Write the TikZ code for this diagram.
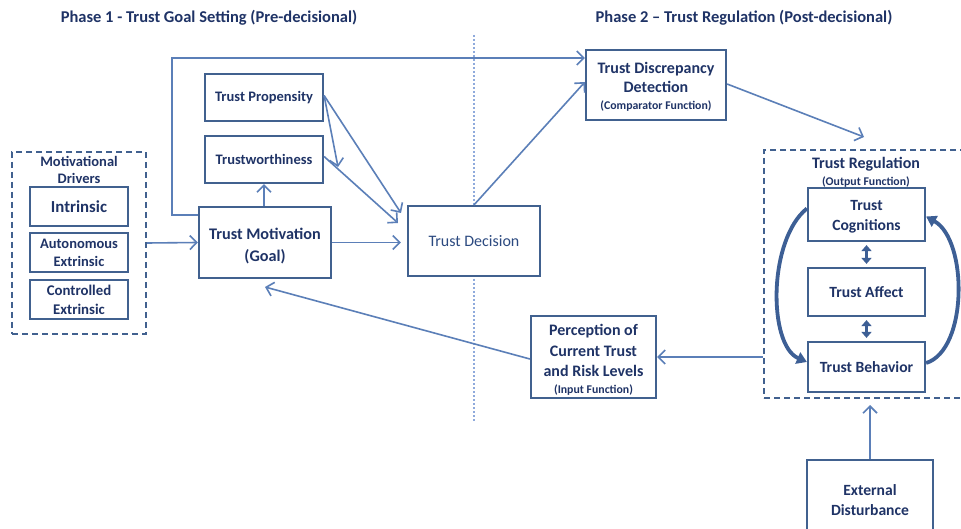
\documentclass[tikz,border=0pt]{standalone}
\usepackage{fontspec}
\setmainfont{Carlito}
\usetikzlibrary{arrows.meta}
\definecolor{boxc}{HTML}{41618F}
\definecolor{txtc}{HTML}{1F3366}
\definecolor{dectxt}{HTML}{2C4A80}
\definecolor{arrc}{HTML}{5B7FB8}
\definecolor{dotc}{HTML}{8FAADC}
\definecolor{curvec}{HTML}{3D5F95}
\tikzset{
  box/.style={draw=boxc, line width=2.2pt, inner sep=0pt, align=center, text=txtc, font=\bfseries\fontsize{16}{20}\selectfont},
  dbox/.style={draw=boxc, line width=2.2pt, dash pattern=on 6pt off 4pt, inner sep=0pt},
  arr/.style={draw=arrc, line width=1.6pt, -{Straight Barb[length=7pt,width=14pt,line width=1.6pt]}},
  dbl/.style={draw=curvec, line width=3pt, {Triangle[length=6pt,width=10pt]}-{Triangle[length=6pt,width=10pt]}},
  crv/.style={draw=curvec, line width=3.8pt, -{Triangle[length=10pt,width=12pt]}},
  small/.style={font=\bfseries\fontsize{11.8}{13}\selectfont},
  ttl/.style={text=txtc, font=\bfseries\fontsize{16.5}{18}\selectfont, inner sep=0pt}
}
\begin{document}
\begin{tikzpicture}[x=1pt,y=-1pt]
\useasboundingbox (0,0) rectangle (961,529);
\clip (0,0) rectangle (961,529);
\fill[white] (0,0) rectangle (961,529);

% titles
\node[ttl] (t1) at (209,18) {Phase 1 - Trust Goal Setting (Pre-decisional)};
\node[ttl] (t2) at (744,18) {Phase 2 -- Trust Regulation (Post-decisional)};

% dotted divider
\coordinate (dvt) at (474,35);
\coordinate (dvb) at (474,422);
\draw[dotc, line width=1.5pt, dash pattern=on 2pt off 2pt] (dvt) -- (dvb);

% motivational drivers
\node[dbox, minimum width=134pt, minimum height=182pt] (drv) at (79,243) {};
\node[text=txtc, font=\bfseries\fontsize{14.5}{17}\selectfont, align=center, inner sep=0pt] (drvt) at (79,169.5) {Motivational\\Drivers};
\node[box, minimum width=98pt, minimum height=39pt, font=\bfseries\fontsize{16.8}{19}\selectfont] (intr) at (79,206.5) {Intrinsic};
\node[box, minimum width=98pt, minimum height=39pt, font=\bfseries\fontsize{14.5}{18}\selectfont] (auto) at (79,252.5) {Autonomous\\Extrinsic};
\node[box, minimum width=98pt, minimum height=39pt, font=\bfseries\fontsize{14.8}{19}\selectfont] (ctrl) at (79,299.5) {Controlled\\Extrinsic};

% phase 1 boxes
\node[box, minimum width=132pt, minimum height=71pt, font=\bfseries\fontsize{16.2}{22.5}\selectfont] (mot) at (265,242.5) {\rule{0pt}{18pt}Trust Motivation\\(Goal)};
\node[box, minimum width=118pt, minimum height=47pt, font=\bfseries\fontsize{14.5}{17}\selectfont] (prop) at (264,97.5) {Trust Propensity};
\node[box, minimum width=118pt, minimum height=47pt, font=\bfseries\fontsize{14.5}{17}\selectfont] (tw) at (264,159.5) {Trustworthiness};
\node[box, minimum width=132pt, minimum height=70pt, font=\fontsize{16}{19}\selectfont, text=dectxt, fill=white] (dec) at (474,241) {Trust Decision};

% phase 2 boxes
\node[box, minimum width=140pt, minimum height=70pt, font=\bfseries\fontsize{16}{19.5}\selectfont] (disc) at (656,85) {\rule{0pt}{14pt}Trust Discrepancy\\Detection\\[-3pt]{\fontsize{11.8}{13}\selectfont (Comparator Function)}};
\node[dbox, minimum width=202pt, minimum height=248pt] (reg) at (865,274) {};
\node[text=txtc, font=\bfseries\fontsize{16}{18}\selectfont, inner sep=0pt] (regt) at (866,164) {Trust Regulation};
\node[small, text=txtc, inner sep=0pt] (regs) at (866,182) {(Output Function)};
\node[box, minimum width=117pt, minimum height=53pt, font=\bfseries\fontsize{15.6}{20}\selectfont] (cog) at (866.5,214.5) {\rule{0pt}{14pt}Trust\\Cognitions};
\node[box, minimum width=117pt, minimum height=48pt, font=\bfseries\fontsize{15.6}{20}\selectfont] (aff) at (866.5,292) {Trust Affect};
\node[box, minimum width=117pt, minimum height=50pt, font=\bfseries\fontsize{15.6}{20}\selectfont] (beh) at (866.5,367) {Trust Behavior};
\node[box, minimum width=125pt, minimum height=82pt, font=\bfseries\fontsize{16}{20.5}\selectfont] (perc) at (593.5,357) {\rule{0pt}{17pt}Perception of\\Current Trust\\and Risk Levels\\[-4pt]{\fontsize{11.8}{13}\selectfont (Input Function)}};
\node[box, minimum width=126pt, minimum height=80pt, font=\bfseries\fontsize{15.6}{20}\selectfont] (ext) at (870,500) {External\\Disturbance};

% connectors phase 1
\draw[arr] (drv.east) -- (mot.west);
\draw[arr] (mot.north -| tw.south) -- (tw.south);
\draw[arr] (mot.east) -- ([xshift=-6pt]dec.west |- mot.east);
\coordinate (p1) at (338,167);
\draw[arr] ([yshift=2pt]prop.east) -- (p1);
\coordinate (p2) at (401,213);
\draw[arr] ([yshift=2pt]prop.east) -- (p2);
\coordinate (p3) at (398,223);
\draw[arr] ([yshift=3pt]tw.east) -- (p3);

% feedback line to discrepancy
\coordinate (f1) at (172,215);
\coordinate (f2) at (172,58);
\draw[arr] (mot.west |- f1) -- (f1) -- (f2) -- (disc.west |- f2);

% decision to discrepancy
\draw[arr] (dec.north) -- ([yshift=3pt]disc.west);
% discrepancy to regulation
\coordinate (r1) at (864,137);
\draw[arr] ([yshift=1pt]disc.east) -- (r1);
% regulation to perception
\draw[arr] (reg.west |- perc.east) -- (perc.east);
% perception to motivation
\coordinate (m1) at (265,287);
\draw[arr] ([yshift=-2pt]perc.west) -- (m1);
% external disturbance
\coordinate (e1) at (870,405);
\draw[arr] (ext.north) -- (e1);

% internal regulation arrows
\draw[dbl] ([yshift=-3pt]cog.south) -- ([yshift=3pt]aff.north);
\draw[dbl] ([yshift=-3pt]aff.south) -- ([yshift=3pt]beh.north);
\draw[crv] ([yshift=6pt]cog.west) .. controls (768,240) and (768,345) .. ([yshift=5pt]beh.west);
\draw[crv] ([yshift=4pt]beh.east) .. controls (968,350) and (968,240) .. ([yshift=-2pt]cog.east);
\end{tikzpicture}
\end{document}
